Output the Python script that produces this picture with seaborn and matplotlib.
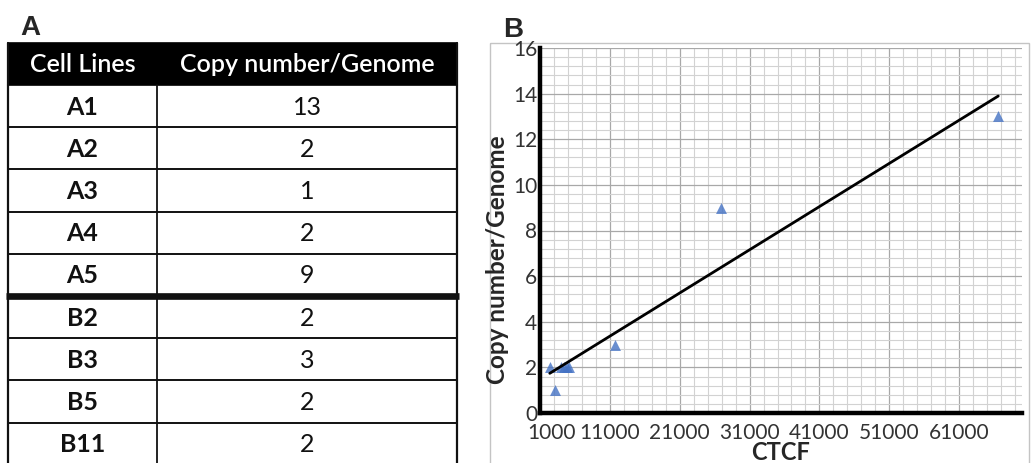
import numpy as np
import pandas as pd
import matplotlib
matplotlib.use("Agg")
import matplotlib.pyplot as plt
from matplotlib.patches import Rectangle
from matplotlib.ticker import MultipleLocator, FixedLocator
from matplotlib.transforms import ScaledTranslation
import seaborn as sns

# ---------------- data ----------------
cell_lines = ["A1", "A2", "A3", "A4", "A5", "B2", "B3", "B5", "B11"]
copy_number = [13, 2, 1, 2, 9, 2, 3, 2, 2]
ctcf = [66600, 2400, 3100, 4000, 26960, 4400, 11700, 4800, 5100]
header = ["Cell Lines", "Copy number/Genome"]
x_ticks = [1000, 11000, 21000, 31000, 41000, 51000, 61000]
y_ticks = [0, 2, 4, 6, 8, 10, 12, 14, 16]

df = pd.DataFrame({"CTCF": ctcf, "Copy": copy_number, "Cell": cell_lines})

sns.set_style("white")
plt.rcParams["font.family"] = ["Lato", "DejaVu Sans"]

W, H = 1031, 463
fig = plt.figure(figsize=(W / 100, H / 100), dpi=100)

# overlay axes in pixel coordinates (table + frame + panel letters)
ov = fig.add_axes([0, 0, 1, 1], zorder=0)
ov.set_xlim(0, W)
ov.set_ylim(H, 0)
ov.axis("off")
ov.patch.set_visible(False)

# ---- Panel A: table ----
xl, xm, xr = 8, 157, 457
top, hdr_bot = 42.7, 85
row_h = 42.2
ov.add_patch(Rectangle((xl, top), xr - xl, hdr_bot - top, facecolor="black",
                       edgecolor="black", lw=1.2))
ov.text((xl + xm) / 2, (top + hdr_bot) / 2 + 1, header[0], color="white",
        fontsize=18, fontweight="semibold", ha="center", va="center")
ov.text((xm + xr) / 2, (top + hdr_bot) / 2 + 1, header[1], color="white",
        fontsize=18, fontweight="semibold", ha="center", va="center")
for i, (cl, cn) in enumerate(zip(cell_lines, copy_number)):
    yc = hdr_bot + row_h * (i + 0.5) + 1
    ov.text((xl + xm) / 2, yc, cl, fontsize=18, fontweight="bold",
            ha="center", va="center", color="#111111")
    ov.text((xm + xr) / 2, yc, str(cn), fontsize=18, ha="center",
            va="center", color="#111111")
for k in range(1, len(cell_lines)):
    y = hdr_bot + row_h * k
    lw = 4.8 if k == 5 else 1.4
    ov.plot([xl - (2 if k == 5 else 0), xr + (2 if k == 5 else 0)], [y, y],
            color="#111111", lw=lw, solid_capstyle="butt")
for x in (xl, xm, xr):
    ov.plot([x, x], [hdr_bot, H + 5], color="#111111", lw=1.6 if x != xm else 1.3)
ov.plot([xl, xl], [top, hdr_bot], color="#111111", lw=1.6)
ov.plot([xr, xr], [top, hdr_bot], color="#111111", lw=1.6)

# panel letters
ov.text(20, 35, "A", fontsize=20, fontweight="bold", family=["Liberation Sans", "DejaVu Sans"],
        ha="left", va="baseline")
ov.text(503, 37, "B", fontsize=20, fontweight="bold", family=["Liberation Sans", "DejaVu Sans"],
        ha="left", va="baseline")

# chart-area frame
ov.add_patch(Rectangle((490, 43), 539, 440, facecolor="none", edgecolor="#c4c4c4", lw=1.0))

# ---- Panel B: scatter with regression ----
ax_l, ax_r, ax_t, ax_b = 540, 1022, 48, 413
ax = fig.add_axes([ax_l / W, (H - ax_b) / H, (ax_r - ax_l) / W, (ax_b - ax_t) / H], zorder=1)
ax.patch.set_visible(False)

sns.regplot(data=df, x="CTCF", y="Copy", ax=ax, ci=None, marker="^", truncate=True,
            scatter_kws=dict(color="#4472C4", s=62, linewidths=0, zorder=3),
            line_kws=dict(color="black", lw=2.0, zorder=4))

ax.set_xlim(1000, 70000)
ax.set_ylim(0, 16)
ax.xaxis.set_major_locator(FixedLocator(x_ticks))
ax.xaxis.set_minor_locator(FixedLocator(np.arange(1000, 70001, 2000)))
ax.yaxis.set_major_locator(FixedLocator(y_ticks))
ax.yaxis.set_minor_locator(MultipleLocator(0.4))
ax.set_xticklabels([str(v) for v in x_ticks])
ax.set_yticklabels([str(v) for v in y_ticks])
ax.grid(True, which="major", color="#a8a8a8", lw=0.9)
ax.grid(True, which="minor", color="#d2d2d2", lw=0.8)
ax.set_axisbelow(True)
ax.tick_params(which="both", length=0)
ax.tick_params(axis="both", labelfontfamily="Lato", labelsize=15, labelcolor="#333333")
ax.tick_params(axis="y", pad=2)
ax.tick_params(axis="x", pad=7)
for s in ("top", "right"):
    ax.spines[s].set_visible(False)
for s in ("left", "bottom"):
    ax.spines[s].set_color("black")
    ax.spines[s].set_linewidth(3.2)

ax.set_xlabel("CTCF", fontsize=17, fontweight="bold", labelpad=-1)
ax.set_ylabel("Copy number/Genome", fontsize=17.5, fontweight="bold")
ax.yaxis.set_label_coords(-0.064, 0.42)
first = ax.get_xticklabels()[0]
first.set_transform(first.get_transform() + ScaledTranslation(12 / 100, 0, fig.dpi_scale_trans))

fig.savefig("out.png", dpi=100)
